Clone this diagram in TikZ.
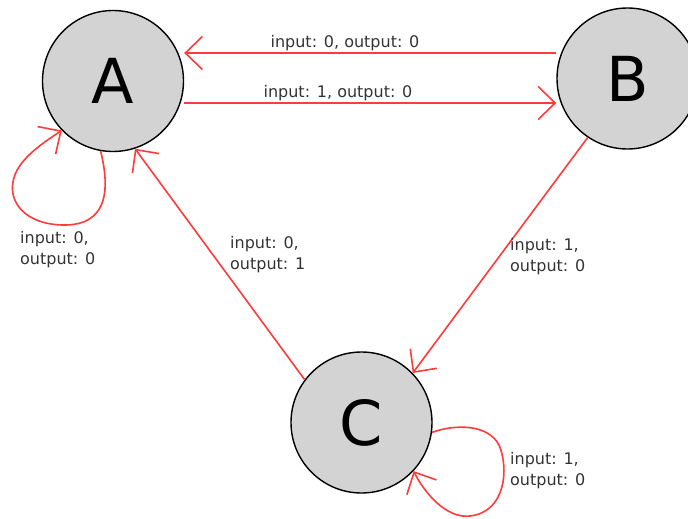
\documentclass[tikz,border=0pt]{standalone}
\usepackage{fontspec}
\setmainfont{DejaVu Sans}
\usetikzlibrary{arrows.meta}
\definecolor{edgered}{HTML}{FF3B3B}
\definecolor{statefill}{HTML}{D3D3D3}
\definecolor{labelgray}{HTML}{333333}
\begin{document}
\begin{tikzpicture}[x=1pt,y=-1pt,
  state/.style={circle,draw=black,line width=1.4pt,fill=statefill,
    minimum size=141pt,inner sep=0pt,font=\fontsize{62}{62}\selectfont},
  edge/.style={draw=edgered,line width=1.6pt,
    -{Straight Barb[length=17pt,width=33pt,line width=1.6pt]}},
  lbl/.style={text=labelgray,font=\fontsize{16}{21}\selectfont,inner sep=0pt},
  lbl2/.style={lbl,align=left,anchor=west}]
\useasboundingbox (0,0) rectangle (688,519);

% states
\node[state] (A) at (113,81) {A};
\node[state] (B) at (627.5,78.5) {B};
\node[state] (C) at (361.5,422.5) {C};

% transitions between A and B
\coordinate (bUp) at ([yshift=25.5pt]B.west);
\coordinate (aUp) at (bUp -| A.east);
\draw[edge] (bUp) -- (aUp);
\coordinate (aLow) at ([yshift=-22pt]A.east);
\coordinate (bLow) at (aLow -| B.west);
\draw[edge] (aLow) -- (bLow);

% diagonals
\draw[edge] (B.236) -- (C.44);
\draw[edge] (C.143) -- (A.-72);

% self loops
\draw[edge] (A.-100) .. controls (114,205) and (97,226) .. (62,225)
  .. controls (27,224) and (9,204) .. (13,182)
  .. controls (16,162) and (38,146) .. (A.-136);
\draw[edge] (C.-8) .. controls (455,424) and (488,424) .. (499,445)
  .. controls (509,468) and (506,512) .. (470,516)
  .. controls (446,519) and (424,492) .. (C.-43);

% labels
\node[lbl] (l1) at (345,43) {input: 0, output: 0};
\node[lbl] (l2) at (338,93) {input: 1, output: 0};
\node[lbl2] (l3) at (510,257) {input: 1,\\output: 0};
\node[lbl2] (l4) at (230,255) {input: 0,\\output: 1};
\node[lbl2] (l5) at (20,250) {input: 0,\\output: 0};
\node[lbl2] (l6) at (510,471) {input: 1,\\output: 0};
\end{tikzpicture}
\end{document}
